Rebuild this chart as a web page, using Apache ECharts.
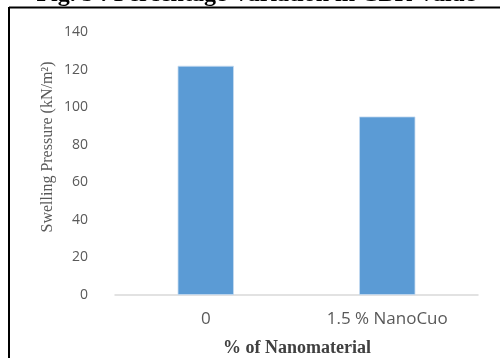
<!DOCTYPE html>
<html>
<head>
<meta charset="utf-8">
<script src="https://cdn.jsdelivr.net/npm/echarts@6/dist/echarts.min.js"></script>
<style>
  html, body { margin: 0; padding: 0; background: #fff; }
  #chart { width: 500px; height: 358px; }
</style>
</head>
<body>
<div id="chart"></div>
<script>
// Swelling pressure for untreated soil and with nano copper oxide
const categories = ['0', '1.5 % NanoCuo'];
const pressure = [122, 95];
const yTicks = { min: 0, max: 140, interval: 20 };

const chart = echarts.init(document.getElementById('chart'), null, { renderer: 'canvas' });

chart.setOption({
  backgroundColor: '#ffffff',
  animation: false,
  grid: { left: 115, right: 22, top: 32, bottom: 63 },
  xAxis: {
    type: 'category',
    data: categories,
    axisLine: { lineStyle: { color: '#d9d9d9', width: 1.5 } },
    axisTick: { show: false },
    axisLabel: {
      color: '#595959',
      fontFamily: 'Open Sans',
      fontSize: 17,
      margin: 16
    }
  },
  yAxis: {
    type: 'value',
    min: yTicks.min,
    max: yTicks.max,
    interval: yTicks.interval,
    axisLine: { show: false },
    axisTick: { show: false },
    splitLine: { show: false },
    axisLabel: {
      color: '#595959',
      fontFamily: 'Open Sans',
      fontSize: 14,
      margin: 27
    }
  },
  series: [{
    type: 'bar',
    data: pressure,
    barWidth: '31%',
    itemStyle: { color: '#5b9bd5', borderColor: '#c5daf0', borderWidth: 0.8 }
  }],
  graphic: [
    // figure caption, cropped at the top edge
    {
      type: 'text',
      x: 256,
      y: 7,
      style: {
        text: 'Fig. 5 : Percentage Variation in CBR Value',
        font: 'bold 24px "Liberation Serif", "Times New Roman", serif',
        fill: '#000',
        textAlign: 'center',
        textVerticalAlign: 'bottom'
      },
      z: 10
    },
    // frame lines
    {
      type: 'line',
      shape: { x1: 9, y1: 7.5, x2: 500, y2: 7.5 },
      style: { stroke: '#000', lineWidth: 2 },
      z: 11
    },
    {
      type: 'line',
      shape: { x1: 9, y1: 7, x2: 9, y2: 358 },
      style: { stroke: '#000', lineWidth: 2 },
      z: 11
    },
    // y-axis title
    {
      type: 'text',
      x: 48,
      y: 147,
      rotation: Math.PI / 2,
      style: {
        text: 'Swelling Pressure (kN/m²)',
        font: '16px "Liberation Serif", "Times New Roman", serif',
        fill: '#595959',
        textAlign: 'center',
        textVerticalAlign: 'middle'
      }
    },
    // x-axis title
    {
      type: 'text',
      x: 297,
      y: 348,
      style: {
        text: '% of Nanomaterial',
        font: 'bold 18px "Liberation Serif", "Times New Roman", serif',
        fill: '#404040',
        textAlign: 'center',
        textVerticalAlign: 'middle'
      }
    }
  ]
});
</script>
</body>
</html>
